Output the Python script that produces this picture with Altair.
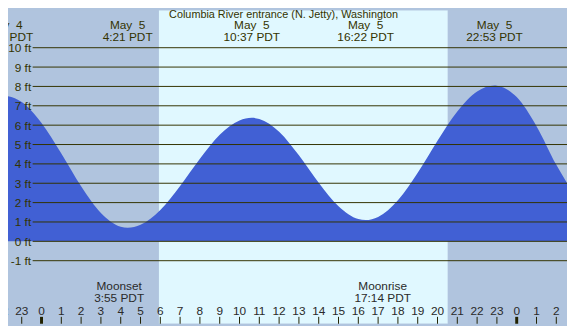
import altair as alt
import pandas as pd

# ---- data ----
tide_hours = [-2.2, -1.85, -1, 0, 1, 2, 3, 4, 4.35, 5, 6, 7, 8, 9, 10, 10.62, 11, 12, 13,
              14, 15, 16, 16.37, 17, 18, 19, 20, 21, 22, 22.88, 23, 24, 25, 26, 26.7]
tide_ft = [7.48, 7.5, 7.19, 6.11, 4.53, 2.84, 1.46, 0.75, 0.70, 0.85, 1.62, 2.86, 4.26, 5.50,
           6.24, 6.38, 6.32, 5.66, 4.44, 3.02, 1.81, 1.15, 1.10, 1.26, 2.12, 3.54, 5.20, 6.71,
           7.74, 8.05, 8.04, 7.45, 5.95, 3.95, 2.75]

shade_start = [-3.0, 5.93, 20.52]
shade_end = [5.93, 20.52, 27.0]
shade_color = ["#b0c4de", "#e0f8ff", "#b0c4de"]

grid_ft = list(range(-1, 11))
grid_labels = [f"{v} ft" for v in grid_ft]

event_hours = [-1.85, 4.35, 10.62, 16.37, 22.88]
event_dates = ["May \u00a04", "May \u00a05", "May \u00a05", "May \u00a05", "May \u00a05"]
event_times = ["22:09 PDT", "4:21 PDT", "10:37 PDT", "16:22 PDT", "22:53 PDT"]

moon_hours = [3.92, 17.23]
moon_names = ["Moonset", "Moonrise"]
moon_times = ["3:55 PDT", "17:14 PDT"]

tick_hours = list(range(-2, 27))
tick_labels = [str(h % 24) for h in tick_hours]
tick_width = [3 if h % 24 == 0 else 1 for h in tick_hours]

title_text = "Columbia River entrance (N. Jetty), Washington"

# ---- layout ----
W, H = 567, 318
FONT = "Liberation Sans"
OLIVE = "#333300"
xs = alt.Scale(domain=[-1.693, 26.54], nice=False, zero=False)
ys = alt.Scale(domain=[-4.257, 11.935], nice=False, zero=False)

tide = pd.DataFrame({"h": tide_hours, "ft": tide_ft})
shade = pd.DataFrame({"a": shade_start, "b": shade_end, "c": shade_color})
grid = pd.DataFrame({"ft": grid_ft, "lab": grid_labels})
events = pd.DataFrame({"h": event_hours, "d": event_dates, "t": event_times})
moons = pd.DataFrame({"h": moon_hours, "n": moon_names, "t": moon_times})
ticks = pd.DataFrame({"h": tick_hours, "lab": tick_labels, "w": tick_width})

X = lambda f: alt.X(f, type="quantitative", scale=xs, axis=None)
Y = lambda f: alt.Y(f, type="quantitative", scale=ys, axis=None)

bg = alt.Chart(shade).mark_rect(clip=True).encode(
    x=X("a"), x2="b", y=alt.value(0), y2=alt.value(H),
    color=alt.Color("c:N", scale=None))

area = alt.Chart(tide).mark_area(clip=True, interpolate="monotone", color="#4160d4").encode(
    x=X("h"), y=Y("ft"), y2=alt.value(H))

lines = alt.Chart(grid).mark_rule(color=OLIVE, strokeWidth=1).encode(
    y=Y("ft"), x=alt.value(25), x2=alt.value(W))

ylabels = alt.Chart(grid).mark_text(font=FONT, fontSize=12, color=OLIVE, align="right",
                                    baseline="middle", dy=0.5).encode(
    y=Y("ft"), x=alt.value(23.5), text="lab:N")

title = alt.Chart(pd.DataFrame({"t": [title_text]})).mark_text(
    font=FONT, fontSize=11, color=OLIVE, align="center", baseline="alphabetic").encode(
    x=alt.value(279.5), y=alt.value(8), text="t:N")

ev_d = alt.Chart(events).mark_text(font=FONT, fontSize=12, color=OLIVE, align="center",
                                   baseline="alphabetic").encode(
    x=X("h"), y=alt.value(19), text="d:N")
ev_t = alt.Chart(events).mark_text(font=FONT, fontSize=12, color=OLIVE, align="center",
                                   baseline="alphabetic").encode(
    x=X("h"), y=alt.value(31), text="t:N")

mo_n = alt.Chart(moons).mark_text(font=FONT, fontSize=12, color="#2a2a2a", align="center",
                                  baseline="alphabetic").encode(
    x=X("h"), y=alt.value(283.5), text="n:N")
mo_t = alt.Chart(moons).mark_text(font=FONT, fontSize=12, color="#2a2a2a", align="center",
                                  baseline="alphabetic").encode(
    x=X("h"), y=alt.value(295.5), text="t:N")

tk_l = alt.Chart(ticks).mark_text(font=FONT, fontSize=12, color="#2a2a2a", align="center",
                                  baseline="alphabetic").encode(
    x=X("h"), y=alt.value(309), text="lab:N")
tk_r = alt.Chart(ticks).mark_rule(color="#222200").encode(
    x=X("h"), y=alt.value(311), y2=alt.value(H),
    size=alt.Size("w:Q", scale=None, legend=None))

chart = alt.layer(bg, area, lines, ylabels, title, ev_d, ev_t, mo_n, mo_t, tk_l, tk_r).properties(
    width=W, height=H, padding=0, autosize=alt.AutoSizeParams(type="none"),
    background="#b0c4de"
).configure_view(stroke=None)

chart.save("out.html", embed_options={"renderer": "svg", "actions": False})
